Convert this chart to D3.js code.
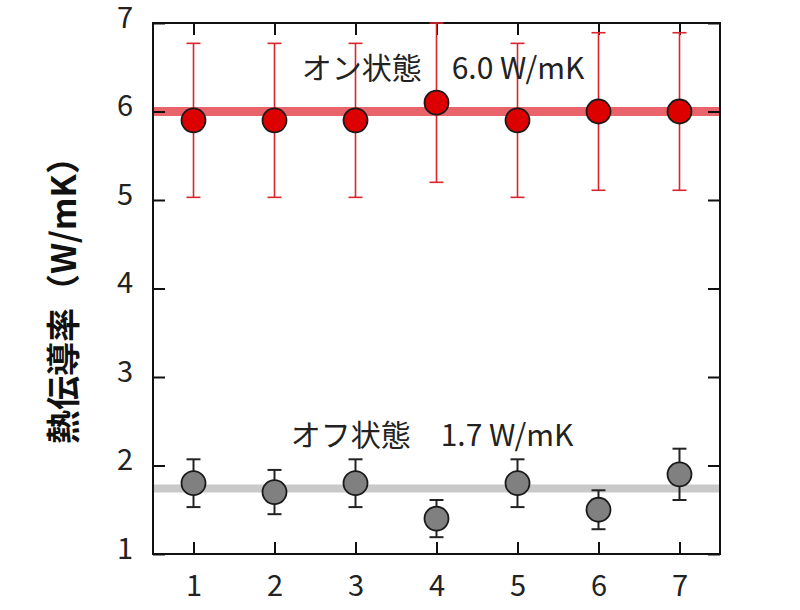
<!DOCTYPE html>
<html><head><meta charset="utf-8">
<script src="https://cdn.jsdelivr.net/npm/d3@7"></script>
<style>body{margin:0;background:#fff}svg{display:block}text{font-family:"Noto Sans CJK JP","Noto Sans",sans-serif}</style>
</head><body><svg id="c" width="800" height="610"></svg>
<script>
const samples = [1,2,3,4,5,6,7];
const onValues = [5.9,5.9,5.9,6.1,5.9,6.0,6.0];
const onErrors = [0.87,0.87,0.87,0.9,0.87,0.89,0.89];
const offValues = [1.8,1.7,1.8,1.4,1.8,1.5,1.9];
const offErrors = [0.27,0.25,0.27,0.21,0.27,0.22,0.29];
const onMean = 6.0, offMean = 1.74;
const yTicks = [1,2,3,4,5,6,7];
const xTicks = [1,2,3,4,5,6,7];
const onLabel = "オン状態　6.0 W/mK";
const offLabel = "オフ状態　1.7 W/mK";
const yTitle = "熱伝導率（W/mK）";

const L=153,R=720,T=23,B=554;
const svg=d3.select("#c");
const x=d3.scaleLinear().domain([0.5,7.5]).range([L,R]);
const y=d3.scaleLinear().domain([1,7]).range([B,T]);

// mean bands
svg.append("line").attr("x1",L).attr("x2",R).attr("y1",y(onMean)).attr("y2",y(onMean))
  .attr("stroke","#e8646a").attr("stroke-width",9);
svg.append("line").attr("x1",L).attr("x2",R).attr("y1",y(offMean)).attr("y2",y(offMean))
  .attr("stroke","#c9c9c9").attr("stroke-width",8);

// frame
svg.append("rect").attr("x",L).attr("y",T).attr("width",R-L).attr("height",B-T)
  .attr("fill","none").attr("stroke","#111").attr("stroke-width",2);

// axes with inward ticks
const fs=29;
const gb=svg.append("g").attr("transform",`translate(0,${B})`)
  .call(d3.axisBottom(x).tickValues(xTicks).tickSize(-12).tickPadding(21).tickFormat(d3.format("d")));
const gt=svg.append("g").attr("transform",`translate(0,${T})`)
  .call(d3.axisTop(x).tickValues(xTicks).tickSize(-12).tickFormat(""));
const gl=svg.append("g").attr("transform",`translate(${L},0)`)
  .call(d3.axisLeft(y).tickValues(yTicks).tickSize(-12).tickPadding(20).tickFormat(d3.format("d")));
const gr=svg.append("g").attr("transform",`translate(${R},0)`)
  .call(d3.axisRight(y).tickValues(yTicks).tickSize(-12).tickFormat(""));
[gb,gt,gl,gr].forEach(g=>{
  g.select(".domain").remove();
  g.selectAll(".tick line").attr("stroke","#111").attr("stroke-width",2);
  g.selectAll("text").attr("font-size",fs).attr("fill","#222").attr("font-family",'"Noto Sans CJK JP",sans-serif');
});
gl.selectAll("text").attr("dy","0.15em");

function series(vals,errs,lineColor,lineW,fill){
  const g=svg.append("g");
  const cw=7;
  vals.forEach((v,i)=>{
    const cx=x(samples[i]);
    g.append("line").attr("x1",cx).attr("x2",cx).attr("y1",y(v-errs[i])).attr("y2",y(v+errs[i]))
      .attr("stroke",lineColor).attr("stroke-width",lineW);
    [v-errs[i],v+errs[i]].forEach(e=>{
      g.append("line").attr("x1",cx-cw).attr("x2",cx+cw).attr("y1",y(e)).attr("y2",y(e))
        .attr("stroke",lineColor).attr("stroke-width",lineW);
    });
  });
  g.selectAll("circle").data(vals).join("circle")
    .attr("cx",(d,i)=>x(samples[i])).attr("cy",d=>y(d)).attr("r",12)
    .attr("fill",fill).attr("stroke","#1a1a1a").attr("stroke-width",1.8);
}
series(onValues,onErrors,"#d8262c",1.6,"#dd0000");
series(offValues,offErrors,"#222",2,"#808080");

svg.append("text").attr("x",443).attr("y",79).attr("text-anchor","middle")
  .attr("font-size",30).attr("fill","#222").text(onLabel);
svg.append("text").attr("x",432).attr("y",446).attr("text-anchor","middle")
  .attr("font-size",30).attr("fill","#222").text(offLabel);

svg.append("text").attr("transform",`translate(76,292) rotate(-90)`).attr("text-anchor","middle")
  .attr("font-size",34).attr("font-weight","bold").attr("fill","#111").text(yTitle);
</script></body></html>
